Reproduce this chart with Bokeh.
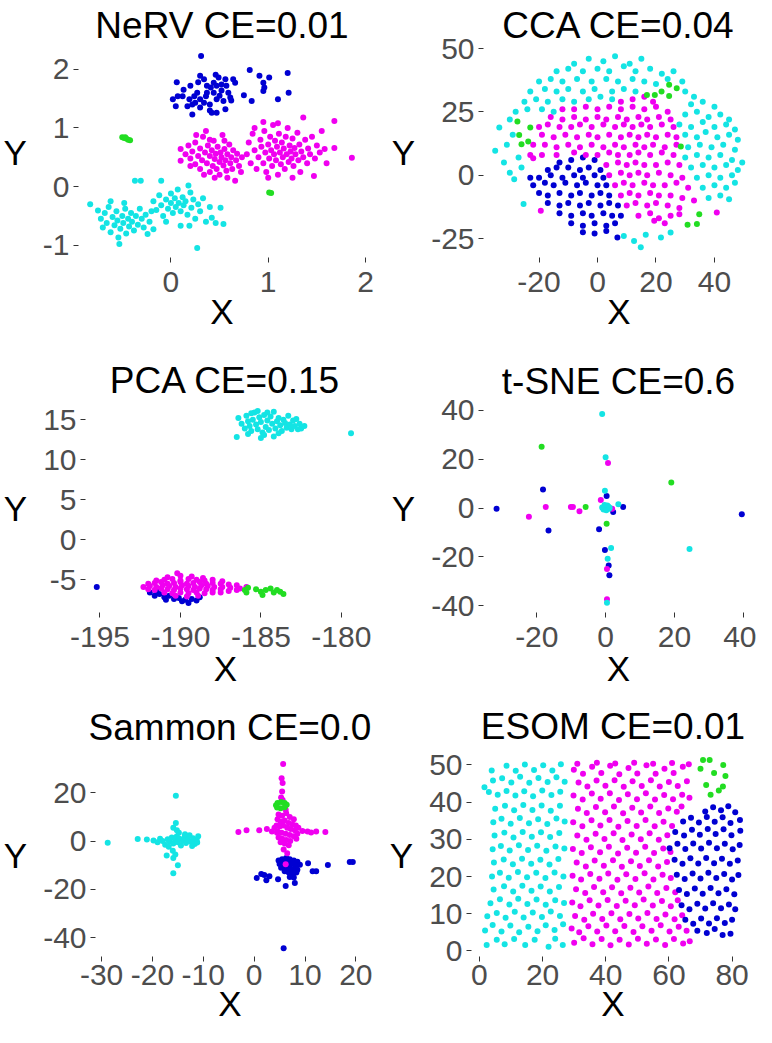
from bokeh.plotting import figure
from bokeh.layouts import column, row
from bokeh.models import Range1d, FixedTicker
from bokeh.embed import file_html
from bokeh.resources import INLINE

CYAN = "#14E4E4"
MAGENTA = "#F000F0"
BLUE = "#0000D2"
GREEN = "#22DD22"
FONT = "Liberation Sans"

# ---------------- NeRV ----------------
nerv_blue = [(0.31,2.23),(0.06,1.78),(0.02,1.49),(0.07,1.54),(0.05,1.37),(0.20,1.72),(0.30,1.89),(0.34,1.83),(0.46,1.91),(0.49,1.86),(0.56,1.83),(0.64,1.83),(0.66,1.77),(0.57,1.72),(0.47,1.72),(0.41,1.69),(0.37,1.60),(0.44,1.60),(0.52,1.64),(0.61,1.52),(0.62,1.47),(0.56,1.32),(0.47,1.26),(0.42,1.26),(0.40,1.40),(0.34,1.43),(0.30,1.49),(0.25,1.43),(0.22,1.40),(0.19,1.49),(0.17,1.37),(0.22,1.23),(0.30,1.35),(0.36,1.54),(0.27,1.60),(0.24,1.54),(0.37,1.72),(0.44,1.77),(0.52,1.74),(0.59,1.60),(0.47,1.49),(0.54,1.46),(0.12,1.54),(0.81,1.99),(0.91,1.89),(1.01,1.86),(1.20,1.94),(0.95,1.77),(0.96,1.69),(0.95,1.63),(0.75,1.56),(0.83,1.46),(1.10,1.49),(1.21,1.60),(0.28,1.78),(0.13,1.65),(0.50,1.55),(0.40,1.30)]
nerv_magenta = [(0.10,0.64),(0.10,0.44),(0.15,0.55),(0.18,0.70),(0.20,0.48),(0.22,0.60),(0.25,0.38),(0.25,0.75),(0.28,0.52),(0.30,0.65),(0.30,0.30),(0.32,0.45),(0.33,0.85),(0.35,0.58),(0.36,0.95),(0.37,0.40),(0.38,0.70),(0.40,0.25),(0.40,0.52),(0.42,0.62),(0.43,0.35),(0.44,0.78),(0.45,0.47),(0.46,0.56),(0.47,0.30),(0.48,0.68),(0.50,0.42),(0.50,0.20),(0.51,0.58),(0.52,0.50),(0.53,0.88),(0.54,0.36),(0.55,0.64),(0.56,0.45),(0.57,0.27),(0.58,0.15),(0.58,0.55),(0.60,0.72),(0.61,0.40),(0.62,0.50),(0.63,0.30),(0.64,0.62),(0.66,0.10),(0.67,0.45),(0.68,0.56),(0.70,0.35),(0.72,0.25),(0.73,0.50),(0.45,0.15),(0.34,0.20),(0.26,0.88),(0.20,0.35),(0.40,0.80),(0.55,0.78),
(0.78,0.55),(0.80,0.75),(0.82,0.40),(0.84,0.90),(0.86,1.00),(0.86,0.62),(0.88,0.30),(0.90,0.50),(0.92,0.80),(0.93,0.68),(0.95,0.40),(0.96,0.95),(0.97,0.58),(0.98,0.25),(1.00,0.72),(1.01,0.48),(1.02,0.85),(1.03,0.62),(1.04,0.35),(1.05,1.05),(1.06,0.55),(1.07,0.78),(1.08,0.45),(1.09,0.68),(1.10,0.20),(1.11,0.90),(1.12,0.58),(1.13,0.38),(1.14,0.75),(1.15,0.50),(1.16,0.65),(1.17,0.30),(1.18,0.85),(1.19,0.55),(1.20,1.00),(1.21,0.42),(1.22,0.70),(1.23,0.60),(1.24,0.48),(1.25,0.82),(1.26,0.35),(1.27,0.66),(1.28,0.55),(1.30,0.92),(1.31,0.45),(1.32,0.72),(1.33,0.25),(1.34,0.60),(1.36,1.18),(1.36,0.50),(1.38,0.80),(1.40,0.40),(1.41,0.65),(1.43,0.55),(1.45,0.85),(1.47,0.18),(1.48,0.48),(1.50,0.70),(1.53,0.58),(1.58,0.64),(1.60,0.40),(1.68,0.66),(1.68,1.12),(1.86,0.49),(1.10,1.08),(0.95,1.10),(1.00,0.15),(1.25,0.15),(1.55,0.95)]
nerv_cyan = [(-0.83,-0.30),(-0.75,-0.41),(-0.72,-0.55),(-0.70,-0.70),(-0.68,-0.45),(-0.66,-0.62),(-0.64,-0.35),(-0.62,-0.78),(-0.60,-0.52),(-0.58,-0.66),(-0.56,-0.42),(-0.55,-0.58),(-0.54,-0.87),(-0.53,-0.98),(-0.52,-0.72),(-0.50,-0.50),(-0.49,-0.62),(-0.47,-0.38),(-0.46,-0.80),(-0.44,-0.55),(-0.43,-0.68),(-0.41,-0.45),(-0.40,-0.60),(-0.38,-0.75),(-0.36,-0.50),(-0.34,-0.65),(-0.32,-0.38),(-0.30,-0.55),(-0.28,-0.70),(-0.26,-0.48),(-0.24,-0.81),(-0.22,-0.60),(-0.20,-0.42),(-0.18,-0.73),(-0.37,0.10),(-0.31,0.10),(-0.62,-0.25),(-0.48,-0.28),
(-0.18,-0.25),(-0.15,-0.40),(-0.12,-0.15),(-0.10,0.10),(-0.10,-0.32),(-0.08,-0.50),(-0.05,-0.22),(-0.03,-0.38),(0.00,-0.12),(0.00,-0.28),(0.02,-0.45),(0.04,-0.20),(0.05,-0.35),(0.07,-0.05),(0.08,-0.28),(0.10,-0.67),(0.10,-0.42),(0.12,-0.18),(0.13,-0.32),(0.15,-0.25),(0.17,-0.48),(0.19,-0.67),(0.20,-0.10),(0.21,-0.36),(0.23,-0.22),(0.25,-0.55),(0.27,-1.05),(0.28,-0.30),(0.30,-0.42),(0.33,-0.20),(0.36,-0.60),(0.40,-0.35),(0.42,-0.53),(0.46,-0.62),(0.51,-0.36),(0.54,-0.64),(-0.05,-0.60),(0.18,0.02)]
nerv_green = [(-0.50,0.84),(-0.48,0.83),(-0.46,0.82),(-0.44,0.80),(-0.42,0.79),(-0.47,0.84),(1.01,-0.10),(1.03,-0.11)]

# ---------------- CCA ----------------
cca_cyan = [(-8,44),(-3,46),(2,45),(6,47),(11,44),(15,46),
(-14,41),(-10,42),(-5,41),(0,42),(4,41),(9,43),(13,41),(18,42),(22,40),(26,41),
(-20,37),(-16,38),(-12,37),(-7,38),(-2,37),(3,38),(7,37),(12,38),(16,37),(20,36),(24,38),(29,37),
(-23,33),(-18,34),(-14,33),(-10,34),(-5,33),(-1,34),(5,33),(9,34),(13,33),(30,33),(33,31),
(-25,29),(-21,30),(-17,29),(-12,30),(-8,29),(-3,30),(1,31),(5,30),
(-28,25),(-24,26),(-19,26),(-15,25),
(-35,9.6),(-33.6,18.8),(-32,5),(-31,12),(-30,22),(-29,16),(-28.5,-1.6),(-27,7),(-25.3,-11.4),(-30,1),(-26,3),
(32,28),(36,29),(40,27),
(30,24),(34,25),(38,23),(42,24),(45,22),
(28,20),(32,19),(36,21),(40,19),(44,20),(47,18),
(30,16),(34,15),(37,17),(41,15),(45,16),(48,14),
(31,11),(35,12),(39,11),(43,12),(47,10),
(30,7),(34,8),(38,7),(42,8),(46,6),(49.5,5),
(32,3),(36,4),(40,3),(44,4),(48,2),
(34,-1),(38,0),(42,-1),(46,0),
(36,-5),(40,-4),(44,-5),(47,-3),
(38,-9),(42,-8),(45,-9.5),
(12.5,-26),(14.8,-28.5),(16.5,-23.5),(21.7,-24.6),(25,-22.6),(9,-24)]
cca_magenta = [(8,29),(12,30),(16,31),(19,29),
(-12,26),(-8,26),(-4,27),(0,26),(4,27),(8,26),(12,27),(16,26),(20,27),(24,25),
(-16,23),(-12,22),(-8,23),(-4,22),(0,23),(3,22),(7,23),(10,22),(14,23),(17,22),(21,23),(25,22),
(-20,19),(-17,20),(-13,19),(-9,19),(-6,20),(-2,19),(2,20),(6,19),(9,20),(12,19),(15,20),(18,19),(22,20),(26,19),
(-19,16),(-15,15),(-11,16),(-7,15),(-3,16),(0,15),(4,16),(8,15),(11,16),(14,15),(17,16),(20,15),(24,16),(27,15),
(-22,12),(-18,12),(-14,11),(-10,12),(-6,11),(-2,12),(2,11),(6,12),(9,11),(13,12),(16,11),(19,12),(23,11),(27,12),
(-23,8),(-19,8),(-14,8),(-8,9),(-4,8),(0,8),(4,9),(7,8),(11,8),(14,9),(18,8),(22,9),(26,8),
(3,4),(7,5),(10,4),(13,5),(16,4),(20,4),(24,5),(28,4),
(4,0),(8,1),(11,0),(14,1),(17,0),(21,1),(25,0),(29,-1),
(6,-4),(9,-3),(12,-4),(16,-3),(19,-4),(23,-4),(27,-3),(31,-5),
(8,-8),(11,-7),(14,-8),(18,-7),(21,-8),(25,-8),(29,-9),(33,-10),
(10,-12),(13,-11),(17,-12),(20,-11),(24,-12),(28,-13),
(14,-16),(18,-15),(21,-17),(25,-16),(28,-15.4),
(19.4,-18),(23,-19),
(-19.4,-14),(40.8,-14.7),(-22,6.7)]
cca_blue = [(-13,5),(-9,6),(-5,7),(-1,6),
(-17,2),(-14,3),(-10,3),(-6,2),(-3,3),(1,2),
(-23,-1),(-20,-1),(-16,0),(-12,-1),(-8,0),(-5,-1),(-1,0),(2,-1),
(-22,-4),(-18,-3),(-15,-4),(-11,-3),(-7,-4),(-4,-3),(0,-4),(3,-4),
(-20,-7),(-17,-8),(-13,-7),(-9,-8),(-6,-7),(-2,-8),(1,-7),(4,-8),
(-17,-11),(-13,-12),(-10,-11),(-6,-12),(-3,-11),(1,-12),(4,-11),(7,-12),
(-13,-15),(-9,-16),(-5,-15),(-2,-16),(2,-15),(5,-16),(8,-16),
(-9,-19),(-5,-20),(-1,-19),(3,-20),(6,-19),
(-5,-22.5),(-1,-23),(3,-22),(6.8,-24.6)]
cca_green = [(16.9,31.7),(19.6,31.7),(21.9,33),(24.5,35.7),(27.1,34.3),(24.5,31.3),(-27.4,21.2),(-23,18.8),(-26.8,15.9),(-23.7,13.3),(-26,12.2),(28.5,11.3),(30.8,-19.6),(34,-19.3),(34.8,-15.4)]

# ---------------- PCA ----------------
pca_cyan = [(-186.5,12.85),(-186.4,15.2),(-186.2,14.5),(-186.0,13.9),(-185.9,15.5),(-185.8,14.8),(-185.7,14.2),(-185.6,13.6),(-185.5,15.0),(-185.4,15.9),(-185.3,14.4),(-185.2,13.8),(-185.1,15.3),(-185.0,12.7),(-185.0,14.7),(-184.9,13.4),(-184.8,15.6),(-184.7,14.1),(-184.6,14.9),(-184.5,13.7),(-184.4,15.4),(-184.3,14.5),(-184.2,16.0),(-184.1,13.9),(-184.0,14.8),(-183.9,15.2),(-183.8,14.3),(-183.7,13.6),(-183.6,15.0),(-183.5,14.6),(-183.4,14.0),(-183.3,15.5),(-183.2,14.4),(-183.1,13.8),(-183.0,14.9),(-182.9,14.2),(-182.8,15.1),(-182.6,14.5),(-182.5,13.9),(-182.3,14.2),(-185.6,15.8),(-184.6,15.9),(-185.2,16.1),(-183.9,13.3),(-184.8,13.1),(-182.7,13.8),(-179.4,13.3),(-185.8,13.2),(-184.2,12.9)]
pca_magenta = [(-190.8,-4.7),(-190.0,-4.5),(-189.3,-4.6),(-188.6,-4.8),(-190.2,-4.2),
(-191.5,-5.1),(-191.0,-5.0),(-190.5,-4.9),(-190.0,-5.1),(-189.5,-4.9),(-189.0,-5.0),(-188.5,-5.1),(-188.0,-5.0),(-187.4,-5.2),
(-192.0,-5.5),(-191.6,-5.4),(-191.2,-5.3),(-190.8,-5.5),(-190.4,-5.4),(-190.0,-5.3),(-189.6,-5.5),(-189.2,-5.4),(-188.8,-5.3),(-188.4,-5.5),(-188.0,-5.4),(-187.5,-5.5),(-187.0,-5.6),(-186.5,-5.7),
(-192.3,-5.9),(-191.9,-5.8),(-191.5,-5.9),(-191.1,-5.7),(-190.7,-5.8),(-190.3,-5.9),(-189.9,-5.7),(-189.5,-5.8),(-189.1,-5.9),(-188.7,-5.7),(-188.3,-5.8),(-187.9,-5.9),(-187.4,-5.9),(-186.9,-6.0),(-186.3,-6.1),(-185.9,-5.9),
(-192.0,-6.2),(-191.6,-6.3),(-191.2,-6.1),(-190.8,-6.2),(-190.4,-6.3),(-190.0,-6.1),(-189.6,-6.2),(-189.2,-6.3),(-188.8,-6.1),(-188.4,-6.2),(-188.0,-6.3),(-187.5,-6.2),(-187.0,-6.4),(-186.5,-6.3),
(-191.0,-6.6),(-190.5,-6.7),(-190.0,-6.6),(-189.5,-6.7),(-189.0,-6.6),(-188.5,-6.7),(-188.0,-6.6),(-187.5,-6.6),
(-190.3,-7.0),(-189.6,-7.1),(-188.9,-7.0)]
pca_blue = [(-195.2,-5.9),(-191.9,-6.6),(-191.6,-7.0),(-191.3,-6.8),(-191.0,-7.2),(-190.7,-7.0),(-190.4,-7.4),(-190.1,-7.3),(-189.9,-7.7),(-189.7,-7.5),(-189.5,-7.9),(-189.3,-7.4),(-189.0,-7.6),(-190.9,-7.5),(-191.5,-6.4),(-188.8,-7.2)]
pca_green = [(-186.0,-6.3),(-185.8,-6.0),(-185.9,-6.6),(-185.0,-6.5),(-184.7,-6.3),(-184.4,-6.1),(-184.2,-6.6),(-184.0,-6.3),(-183.8,-6.5),(-183.6,-6.8),(-184.9,-6.9),(-185.3,-6.2)]

# ---------------- t-SNE ----------------
tsne_cyan = [(-1,38.4),(0,20.7),(-0.2,7.1),(0,0.4),(-1,0.2),(1,-0.3),(0.5,1),(-0.6,-0.6),(0.8,0.6),(3.7,1.5),(1.6,-16.3),(0.6,-20.7),(0.4,-38.7),(24.4,-16.7),(0.2,-0.9),(-0.3,1.2),(1.2,0.1)]
tsne_magenta = [(0.7,18.4),(-1.4,3.3),(-22.3,-3.6),(-17.4,0.4),(-10.1,0.4),(-9.5,0.4),(-7.6,-1.3),(1.9,-0.3),(0.4,-24.9),(0.4,-37.3)]
tsne_blue = [(-18.2,7.6),(0.3,4.9),(-31.7,-0.3),(2.2,-1.6),(5.1,0.4),(-16.6,-9.2),(-1.9,-8.7),(-0.2,-17.2),(0.9,-23.5),(1.1,-27.5),(39.6,-2.5)]
tsne_green = [(-18.6,25),(19.1,10.4),(-5.8,0.4),(0.3,-6.4)]

# ---------------- Sammon ----------------
sammon_cyan = [(-28.8,-0.7),(-22.9,0.9),(-21.1,0.7),(-19.8,0.3),(-19.0,-0.5),(-18.5,1.0),(-18.0,0.0),(-17.5,-1.5),(-17.0,0.8),(-16.6,-0.2),(-16.2,1.5),(-15.9,-1.0),(-15.5,0.4),(-15.2,2.0),(-15.0,-0.5),(-14.7,1.0),(-14.4,-1.8),(-14.0,0.2),(-13.7,1.6),(-13.4,-0.8),(-13.0,0.6),(-12.7,2.4),(-12.4,-0.3),(-12.0,1.2),(-11.7,-1.2),(-11.3,0.5),(-11.0,2.0),(-11.2,-0.6),(-12.2,-2.0),(-13.6,2.8),(-14.8,3.5),(-16.8,-2.3),
(-15.4,18.7),(-15.4,7.5),(-15.9,5.5),(-15.2,4.5),(-16.0,-4),(-15.9,-7),(-15.0,-10),(-15.9,-13.3),(-15.5,-5.5),(-17.2,-6.0)]
sammon_magenta = [(5.7,31.9),(5.4,26),(5.6,24),(5.5,20.5),(5.3,18),(5.6,17),
(-3.1,3.8),(-1.5,4.5),(1.0,4.5),(2.5,5),(3.5,4),(4,5.5),(4.5,3.5),(9.5,4.2),(10.5,4.0),(11.2,3.6),(12.2,4.0),(14,3.8),
(4.8,11),(5.5,10.5),(6.3,11.5),(7,10),(7.8,9),(4.6,9),(5.2,8),(6.0,8.5),(6.8,7.5),(7.5,7),(8.2,6.5),(4.4,6.5),(5.0,6),(5.7,6.5),(6.5,5.5),(7.2,5),(8,4.5),(4.6,4),(5.4,3.5),(6.2,3),(7.0,2.5),(7.8,2),(4.8,1.5),(5.5,1),(6.3,0.5),(7.1,0),(5.2,-0.5),(6.0,-1),(6.8,-1.7),(5.8,-3.5),(8.3,1),(8.5,3),(8.7,5.5),(6.2,13),(6.5,-5),(6.2,-9.6)]
sammon_blue = [(4.8,-8),(5.5,-7.5),(6.3,-7),(7,-7.5),(7.8,-8),(8.5,-8.5),(5,-9.5),(5.8,-9),(6.6,-9.2),(7.4,-9.5),(8.2,-10),(9,-9.8),(5.3,-11),(6.1,-11.2),(6.9,-10.8),(7.7,-11.5),(8.5,-11.8),(6,-12.5),(6.8,-13),(7.5,-13.5),(8.3,-13),(7,-14.8),(7.8,-15),(6.5,-8),(7.2,-12),
(0.5,-15.2),(1.4,-13.6),(2.4,-16.2),(4.7,-15.8),(6.2,-18.6),(8,-17.3),(10.6,-9.2),(11.5,-12.5),(12.2,-12.5),(14.5,-9.9),(18.8,-8.6),(19.4,-8.6),(5.8,-44.3),(3,-14.5),(2,-14)]
sammon_green = [(4.3,14.8),(4.6,15.8),(5.3,16.2),(6.0,15.8),(6.4,15.0),(6.0,14.0),(5.2,13.6),(4.5,13.9)]

# ---------------- ESOM ----------------
esom_cyan = [(2.3,1.6),(5.5,3.0),(8.0,1.8),(11.0,3.2),(14.5,1.6),(17.5,3.0),(21.9,1.1),(24.0,3.3),(26.4,1.6),
(1.8,5.5),(4.2,7.0),(7.0,5.2),(9.8,6.8),(12.6,5.0),(15.5,6.5),(18.4,5.3),(21.0,6.9),(23.8,5.6),(26.5,7.2),
(2.5,9.3),(5.5,10.2),(8.3,8.9),(11.2,10.5),(14.0,9.0),(16.9,10.3),(19.8,9.1),(22.6,10.6),(25.5,9.4),
(3.5,12.8),(6.5,13.9),(9.5,12.5),(12.3,14.0),(15.2,12.6),(18.1,13.8),(21.0,12.4),(24.0,13.6),(26.8,12.9),
(4.5,16.5),(7.8,17.4),(10.7,16.0),(13.6,17.5),(16.5,16.2),(19.4,17.3),(22.3,16.0),(25.2,17.2),
(4.0,20.0),(6.5,21.0),(9.3,19.7),(12.2,21.2),(15.1,19.8),(18.0,21.0),(20.9,19.6),(23.8,21.1),(26.6,20.0),
(4.6,23.8),(7.7,24.6),(10.6,23.3),(13.5,24.8),(16.4,23.4),(19.3,24.5),(22.2,23.2),(25.0,24.7),
(4.2,27.3),(6.8,28.2),(9.6,27.0),(12.5,28.4),(15.4,27.1),(18.3,28.3),(21.2,26.9),(24.1,28.1),(26.9,27.5),
(4.8,31.0),(7.9,31.8),(10.8,30.5),(13.7,32.0),(16.6,30.7),(19.5,31.9),(22.4,30.6),(25.3,31.7),
(4.4,34.6),(7.0,35.5),(9.9,34.2),(12.8,35.7),(15.7,34.3),(18.6,35.4),(21.5,34.1),(24.4,35.6),(27.0,34.8),
(5.0,38.2),(8.1,39.0),(11.0,37.8),(13.9,39.2),(16.8,37.9),(19.7,39.1),(22.6,37.7),(25.5,39.0),
(3.0,42.7),(5.8,42.0),(8.6,43.0),(11.4,41.8),(14.2,42.9),(17.0,41.6),(19.9,43.1),(22.8,41.9),(25.6,42.8),
(1.6,44.0),(4.3,45.8),(7.2,46.4),(10.1,45.3),(12.9,46.8),(15.8,45.2),(18.7,46.5),(21.6,45.4),(24.4,46.7),(27.0,45.5),
(3.9,48.5),(8.6,49.8),(11.5,48.4),(14.4,50.1),(17.3,48.6),(20.2,49.9),(23.1,48.5),(25.8,50.2)]
esom_magenta = [(30.0,2.2),(33.0,3.4),(35.8,1.8),(38.7,3.2),(41.5,1.5),(44.4,3.0),(47.3,1.7),(50.2,3.3),(53.0,1.9),(55.9,3.1),(58.8,1.6),(61.6,3.2),(64.5,2.0),(66.6,2.6),
(29.2,6.0),(31.6,5.0),(34.5,6.6),(37.3,5.2),(40.2,6.8),(43.0,5.3),(45.9,6.7),(48.8,5.1),(51.6,6.6),(54.5,5.4),(57.4,6.9),(60.2,5.2),(63.1,6.5),(65.6,5.4),
(30.3,9.4),(33.2,8.4),(36.0,10.0),(38.9,8.6),(41.8,10.1),(44.6,8.5),(47.5,9.9),(50.3,8.7),(53.2,10.2),(56.1,8.6),(58.9,9.8),(61.8,8.5),(64.2,9.6),
(29.4,13.0),(32.0,12.0),(34.9,13.6),(37.7,12.2),(40.6,13.7),(43.5,12.1),(46.3,13.5),(49.2,12.3),(52.0,13.8),(54.9,12.2),(57.8,13.4),(60.6,12.0),(62.8,13.6),
(30.6,16.6),(33.5,15.6),(36.3,17.2),(39.2,15.8),(42.0,17.1),(44.9,15.5),(47.8,17.0),(50.6,15.7),(53.5,17.3),(56.3,15.6),(59.2,16.9),(62.0,15.8),
(29.5,20.2),(32.2,19.2),(35.1,20.7),(38.0,19.4),(40.8,20.8),(43.7,19.1),(46.5,20.6),(49.4,19.3),(52.3,20.9),(55.1,19.2),(58.0,20.5),(60.6,19.6),
(30.8,23.8),(33.7,22.7),(36.5,24.3),(39.4,22.9),(42.3,24.4),(45.1,22.6),(48.0,24.1),(50.8,22.8),(53.7,24.4),(56.6,22.7),(59.4,23.9),
(29.6,27.4),(32.4,26.3),(35.3,27.9),(38.2,26.5),(41.0,28.0),(43.9,26.2),(46.8,27.7),(49.6,26.4),(52.5,28.0),(55.3,26.3),(58.2,27.5),(60.5,26.6),
(31.0,31.0),(33.9,29.9),(36.8,31.5),(39.6,30.1),(42.5,31.6),(45.3,29.8),(48.2,31.3),(51.1,30.0),(53.9,31.6),(56.8,29.9),(59.5,31.1),
(29.7,34.6),(32.6,33.5),(35.5,35.1),(38.3,33.7),(41.2,35.2),(44.0,33.4),(46.9,34.9),(49.8,33.6),(52.6,35.2),(55.5,33.5),(58.3,34.7),(61.0,33.6),
(31.2,38.2),(34.0,37.1),(36.9,38.7),(39.8,37.3),(42.6,38.8),(45.5,37.0),(48.4,38.5),(51.2,37.2),(54.1,38.8),(56.9,37.1),(59.8,38.3),(62.5,37.4),(64.0,38.8),
(29.8,41.8),(32.7,40.7),(35.6,42.3),(38.4,40.9),(41.3,42.4),(44.2,40.6),(47.0,42.1),(49.9,40.8),(52.7,42.4),(55.6,40.7),(58.5,41.9),(61.3,40.8),(64.2,42.0),(66.5,41.2),
(31.4,45.3),(34.2,44.2),(37.1,45.8),(39.9,44.4),(42.8,45.9),(45.7,44.1),(48.5,45.6),(51.4,44.3),(54.3,45.9),(57.1,44.2),(60.0,45.4),(62.8,44.3),(65.7,45.6),
(29.9,48.7),(32.8,47.6),(35.7,49.5),(38.6,47.8),(41.4,49.8),(44.3,47.5),(47.2,49.2),(50.0,47.7),(52.9,49.9),(55.8,47.6),(58.6,49.0),(61.5,47.8),(64.4,49.5),(66.3,50.2),
(31.0,50.3),(37.2,50.6),(43.0,50.4),(49.0,50.6),(55.0,50.3),(61.0,50.5)]
esom_blue = [(71.5,37.5),(74.0,38.6),(76.5,37.8),(78.8,38.9),(81.0,37.3),
(64.5,34.8),(67.0,35.8),(69.5,34.5),(72.0,36.0),(74.5,34.7),(77.0,35.9),(79.5,34.4),(82.5,35.2),
(62.0,32.0),(64.8,31.0),(67.3,32.6),(69.8,31.2),(72.3,32.8),(74.8,31.4),(77.3,32.7),(79.8,31.1),(82.6,32.3),
(60.2,27.6),(62.7,28.8),(65.2,27.4),(67.7,28.9),(70.2,27.5),(72.7,29.1),(75.2,27.6),(77.7,28.8),(80.2,27.3),(82.4,28.5),
(61.8,24.5),(64.3,23.4),(66.8,24.9),(69.3,23.5),(71.8,25.0),(74.3,23.6),(76.8,24.8),(79.3,23.4),(81.8,24.3),
(62.5,20.5),(65.0,19.3),(67.5,20.8),(70.0,19.5),(72.5,21.0),(75.0,19.6),(77.5,20.7),(80.0,19.2),(82.0,20.4),
(63.2,16.4),(65.7,15.3),(68.2,16.8),(70.7,15.4),(73.2,16.9),(75.7,15.5),(78.2,16.6),(80.7,15.2),
(64.0,12.3),(66.5,11.2),(69.0,12.7),(71.5,11.4),(74.0,12.8),(76.5,11.5),(79.0,12.5),(81.0,11.2),
(65.2,8.4),(67.7,7.3),(70.2,8.7),(72.7,7.4),(75.2,8.8),(77.7,7.5),(80.0,8.4),
(69.0,5.4),(72.0,4.8),(74.5,5.9),(77.0,4.3),(79.5,4.6)]
esom_green = [(70.8,51.3),(72.9,51.3),(70.0,49.0),(77.2,50.0),(74.3,47.8),(77.9,47.0),(71.8,44.6),(77.1,44.2),(75.8,43.1),(73.2,42.0)]

# axis ticks
nerv_xticks, nerv_yticks = [0, 1, 2], [-1, 0, 1, 2]
cca_xticks, cca_yticks = [-20, 0, 20, 40], [-25, 0, 25, 50]
pca_xticks, pca_yticks = [-195, -190, -185, -180], [-5, 0, 5, 10, 15]
tsne_xticks, tsne_yticks = [-20, 0, 20, 40], [-40, -20, 0, 20, 40]
sammon_xticks, sammon_yticks = [-30, -20, -10, 0, 10, 20], [-40, -20, 0, 20]
esom_xticks, esom_yticks = [0, 20, 40, 60, 80], [0, 10, 20, 30, 40, 50]


def make(title, xr, yr, xt, yt, height, borders, tstand, lstand, astand, series):
    l, r, t, b = borders
    p = figure(width=378, height=height, output_backend="svg", toolbar_location=None,
               x_range=Range1d(*xr), y_range=Range1d(*yr),
               min_border_left=l, min_border_right=r, min_border_top=t, min_border_bottom=b)
    p.background_fill_color = "white"
    p.border_fill_color = "white"
    p.outline_line_color = None
    p.grid.visible = False
    p.title.text = title
    p.title.align = "center"
    p.title.text_font = FONT
    p.title.text_font_size = "37px"
    p.title.text_font_style = "normal"
    p.title.text_color = "black"
    p.title.standoff = tstand
    p.xaxis.ticker = FixedTicker(ticks=xt)
    p.yaxis.ticker = FixedTicker(ticks=yt)
    p.xaxis.major_label_overrides = {v: str(v) for v in xt}
    p.yaxis.major_label_overrides = {v: str(v) for v in yt}
    for ax in (p.xaxis[0], p.yaxis[0]):
        ax.axis_line_color = None
        ax.major_tick_line_color = "#333333"
        ax.major_tick_line_width = 1
        ax.major_tick_out = 5
        ax.major_tick_in = 0
        ax.minor_tick_line_color = None
        ax.major_label_text_font = FONT
        ax.major_label_text_font_size = "30px"
        ax.major_label_text_color = "#4D4D4D"
        ax.axis_label_text_font = FONT
        ax.axis_label_text_font_size = "35px"
        ax.axis_label_text_font_style = "normal"
        ax.axis_label_text_color = "black"
    p.xaxis.axis_label = "X"
    p.yaxis.axis_label = "Y"
    p.xaxis.major_label_standoff = lstand
    p.yaxis.major_label_standoff = 4
    p.xaxis.axis_label_standoff = astand
    p.yaxis.axis_label_standoff = 13
    yax = p.yaxis[0]
    if "axis_label_orientation" in yax.properties():
        yax.axis_label_orientation = "horizontal"
    for pts, col in series:
        xs = [q[0] for q in pts]
        ys = [q[1] for q in pts]
        p.scatter(xs, ys, size=6, fill_color=col, line_color=None)
    return p


p1 = make("NeRV CE=0.01", (-0.95, 2.0), (-1.21, 2.39), nerv_xticks, nerv_yticks, 340, (74, 13, 46, 83), 1, 9, -3,
          [(nerv_blue, BLUE), (nerv_magenta, MAGENTA), (nerv_cyan, CYAN), (nerv_green, GREEN)])
p2 = make("CCA CE=0.04", (-39, 53.7), (-32.5, 50.8), cca_xticks, cca_yticks, 340, (105, 2, 46, 82), 1, 9, -3,
          [(cca_blue, BLUE), (cca_magenta, MAGENTA), (cca_cyan, CYAN), (cca_green, GREEN)])
p3 = make("PCA CE=0.15", (-195.9, -178.5), (-9.1, 16.9), pca_xticks, pca_yticks, 350, (83, 13, 64, 78), 8, 9, -1,
          [(pca_blue, BLUE), (pca_magenta, MAGENTA), (pca_cyan, CYAN), (pca_green, GREEN)])
p4 = make("t-SNE CE=0.6", (-35.5, 43), (-42.7, 42.3), tsne_xticks, tsne_yticks, 350, (105, 3, 61, 78), 5, 9, -1,
          [(tsne_blue, BLUE), (tsne_magenta, MAGENTA), (tsne_cyan, CYAN), (tsne_green, GREEN)])
p5 = make("Sammon CE=0.0", (-31.2, 21.7), (-47.7, 35.8), sammon_xticks, sammon_yticks, 336, (94, 14, 62, 70), 13, 3, -4,
          [(sammon_cyan, CYAN), (sammon_blue, BLUE), (sammon_magenta, MAGENTA), (sammon_green, GREEN)])
p6 = make("ESOM CE=0.01", (-2.5, 87.1), (-1.5, 52.8), esom_xticks, esom_yticks, 336, (93, 2, 64, 70), 15, 3, -4,
          [(esom_cyan, CYAN), (esom_magenta, MAGENTA), (esom_blue, BLUE), (esom_green, GREEN)])

layout = column(row(p1, p2), row(p3, p4), row(p5, p6))
open("out.html", "w").write(file_html(layout, INLINE))
